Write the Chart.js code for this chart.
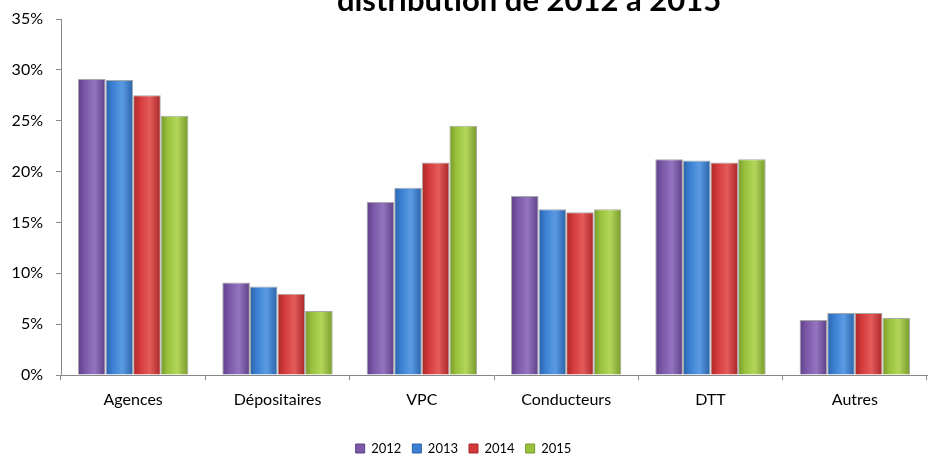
<!DOCTYPE html>
<html>
<head>
<meta charset="utf-8">
<script src="https://cdn.jsdelivr.net/npm/chart.js@4"></script>
<style>
  html, body { margin: 0; padding: 0; background: #fff; overflow: hidden; }
  #wrap { width: 944px; height: 475px; margin-top: -10px; position: relative; }
</style>
</head>
<body>
<div id="wrap"><canvas id="distChart"></canvas></div>
<script>
const categories = ["Agences", "Dépositaires", "VPC", "Conducteurs", "DTT", "Autres"];
const years = ["2012", "2013", "2014", "2015"];
const values2012 = [29.1, 9.1, 17.0, 17.6, 21.2, 5.4];
const values2013 = [29.0, 8.7, 18.4, 16.3, 21.1, 6.1];
const values2014 = [27.5, 8.0, 20.9, 16.0, 20.9, 6.1];
const values2015 = [25.5, 6.3, 24.5, 16.3, 21.2, 5.6];
const yTicks = [0, 5, 10, 15, 20, 25, 30, 35];
const titleText = "distribution de 2012 à 2015";

const palette = [
    { base: "#7b58a8", light: "#9474bf", dark: "#5e3f86" },
    { base: "#3b80d3", light: "#5a9be3", dark: "#2a62a8" },
    { base: "#d43a3a", light: "#e45b5b", dark: "#a92727" },
    { base: "#9ac23c", light: "#b2d65a", dark: "#76992a" }
];

// horizontal shading like the old excel bevel
function barFill(c) {
    return ctx => {
        const el = ctx.element;
        if (!el || !isFinite(el.x) || !el.width) return c.base;
        const x0 = el.x - el.width / 2, x1 = el.x + el.width / 2;
        const g = ctx.chart.ctx.createLinearGradient(x0, 0, x1, 0);
        g.addColorStop(0, c.dark);
        g.addColorStop(0.25, c.base);
        g.addColorStop(0.6, c.light);
        g.addColorStop(1, c.dark);
        return g;
    };
}

const seriesData = [values2012, values2013, values2014, values2015];

const titlePlugin = {
    id: "topTitle",
    afterDraw(chart) {
        const ctx = chart.ctx;
        ctx.save();
        ctx.font = "bold 31px Lato";
        ctx.fillStyle = "#000";
        ctx.textAlign = "center";
        ctx.textBaseline = "alphabetic";
        ctx.fillText(titleText, 529, 21);
        ctx.restore();
    }
};

const ctx = document.getElementById("distChart").getContext("2d");
const chart = new Chart(ctx, {
    type: "bar",
    data: {
        labels: categories,
        datasets: years.map((y, i) => ({
            label: y,
            data: seriesData[i],
            backgroundColor: barFill(palette[i]),
            borderColor: "rgba(110,110,110,0.6)",
            borderWidth: 1,
            barPercentage: 1,
            categoryPercentage: 0.765
        }))
    },
    options: {
        responsive: true,
        maintainAspectRatio: false,
        animation: false,
        layout: { padding: { top: 29, right: 17, left: 0, bottom: 0 } },
        plugins: {
            title: { display: false },
            tooltip: { enabled: false },
            legend: {
                position: "bottom",
                labels: {
                    boxWidth: 9,
                    boxHeight: 9,
                    padding: 11,
                    color: "#000",
                    font: { family: "Lato", size: 13 },
                    generateLabels(ch) {
                        return ch.data.datasets.map((ds, i) => ({
                            text: ds.label,
                            fillStyle: palette[i].base,
                            strokeStyle: palette[i].dark,
                            lineWidth: 1,
                            datasetIndex: i,
                            hidden: false
                        }));
                    }
                }
            }
        },
        scales: {
            x: {
                offset: true,
                grid: {
                    offset: true,
                    drawOnChartArea: false,
                    drawTicks: true,
                    tickLength: 5,
                    color: "#888"
                },
                border: { color: "#888" },
                ticks: {
                    color: "#000",
                    font: { family: "Lato", size: 16 },
                    padding: 10
                },
                afterFit(s) { s.height = 56; }
            },
            y: {
                min: 0,
                max: 35,
                afterBuildTicks(s) { s.ticks = yTicks.map(v => ({ value: v })); },
                grid: {
                    drawOnChartArea: false,
                    drawTicks: true,
                    tickLength: 5,
                    color: "#888"
                },
                border: { color: "#888" },
                ticks: {
                    color: "#000",
                    font: { family: "Lato", size: 16 },
                    padding: 13,
                    callback: v => v + "%"
                },
                afterFit(s) { s.width = 61; }
            }
        }
    },
    plugins: [titlePlugin]
});
chart.update("none");
</script>
</body>
</html>
